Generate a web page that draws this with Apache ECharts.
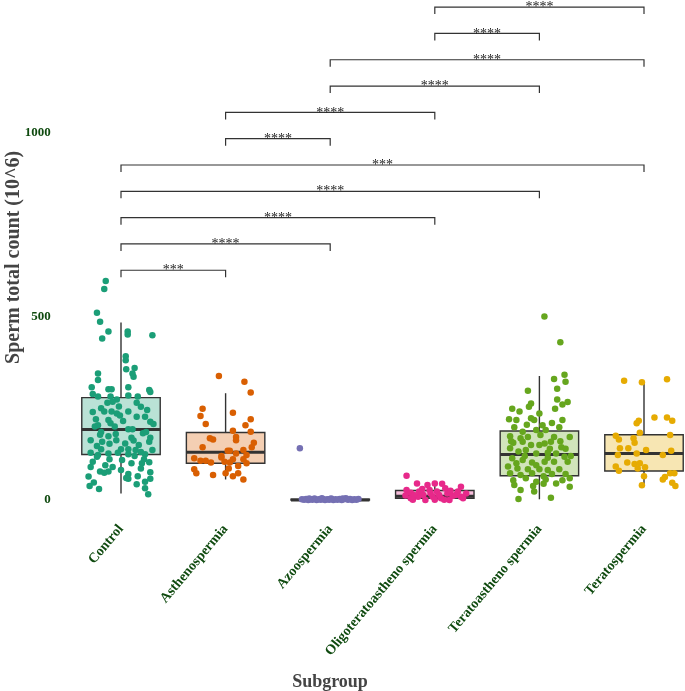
<!DOCTYPE html>
<html>
<head>
<meta charset="utf-8">
<script src="https://cdn.jsdelivr.net/npm/echarts@6.0.0/dist/echarts.min.js"></script>
<style>html,body{margin:0;padding:0;background:#fff}#c{width:685px;height:691px}</style>
</head>
<body>
<div id="c"></div>
<script>
const categories = ['Control','Asthenospermia','Azoospermia','Oligoteratoastheno spermia','Teratoastheno spermia','Teratospermia'];
const colors = ['#1B9E77','#D95F02','#7570B3','#E7298A','#66A61E','#E6AB02'];
const fills = ['rgba(27,158,119,0.3)','rgba(217,95,2,0.3)','rgba(117,112,179,0.3)','rgba(231,41,138,0.3)','rgba(102,166,30,0.3)','rgba(230,171,2,0.3)'];
// [min, q1, median, q3, max]
const boxStats = [
  [18,124,192,279,484],
  [56,100,130,184,291],
  [0,0,0,2,4],
  [0,5,10,26,48],
  [2,66,124,188,338],
  [40,79,127,178,323]
];
const yTicks = [0,500,1000];
// [fromIndex, toIndex, height, label]
const brackets = [
  [0,1,626,'***'],
  [0,2,697.7,'****'],
  [0,3,769.4,'****'],
  [0,4,841.1,'****'],
  [0,5,912.8,'***'],
  [1,2,984.5,'****'],
  [1,3,1056.2,'****'],
  [2,4,1127.9,'****'],
  [2,5,1199.6,'****'],
  [3,4,1271.3,'****'],
  [3,5,1343,'****']
];
// jittered points: [offset within category, value]
const controlPts = [[-0.146,597],[-0.16,575],[-0.23,510],[-0.2,486],[-0.12,459],[-0.18,440],[0.064,459],[0.064,451],[0.3,449],[0.045,392],[0.045,381],[0.13,360],[0.05,356],[0.11,345],[0.12,336],[-0.22,345],[-0.22,327],[-0.28,307],[-0.12,302],[-0.09,302],[0.07,307],[0.27,300],[0.28,294],[-0.27,289],[-0.22,282],[-0.1,282],[-0.04,274],[0.07,285],[0.16,282],[-0.08,268],[-0.13,265],[0.15,265],[0.19,254],[-0.19,250],[-0.16,241],[-0.09,241],[-0.04,236],[0.07,241],[0.15,227],[0.23,227],[-0.24,220],[-0.12,218],[-0.01,230],[0.28,213],[0.31,207],[-0.22,204],[-0.1,209],[0.07,193],[0.11,193],[-0.19,185],[-0.2,178],[-0.12,174],[0.21,182],[0.24,185],[-0.29,163],[-0.18,159],[-0.11,153],[-0.045,163],[0.04,154],[0.12,162],[0.17,150],[0.27,159],[-0.23,147],[-0.19,138],[0,138],[0.07,138],[0.14,136],[0.19,131],[0.3,136],[-0.29,129],[-0.22,123],[-0.12,127],[-0.03,129],[0.07,125],[0.23,125],[-0.27,104],[-0.23,118],[-0.11,111],[0.01,109],[0.1,100],[0.22,111],[0.27,103],[-0.2,78],[-0.16,74],[-0.12,78],[0,82],[0.07,71],[0.19,86],[0.28,76],[-0.31,64],[0.07,58],[0.16,65],[0.28,58],[-0.26,48],[-0.3,38],[-0.21,30],[0.15,43],[0.23,50],[0.23,32],[0.26,16],[-0.02,255],[-0.06,200],[-0.25,200],[0.02,215],[0.25,245],[-0.27,240],[0.1,170],[-0.05,180],[0.28,170],[-0.08,90],[0.13,120],[-0.29,90],[0.2,100],[0.05,60],[-0.15,95]];
const asthenoPts = [[-0.064,338],[0.18,322],[0.24,293],[-0.22,249],[-0.24,229],[0.07,238],[0.24,220],[-0.19,207],[0.19,204],[0.07,189],[0.24,186],[-0.15,168],[-0.12,165],[0.1,172],[0.1,163],[0.27,156],[0.25,144],[-0.22,144],[0.17,136],[0.02,134],[0.04,134],[-0.04,120],[0.2,123],[0.1,127],[-0.3,114],[-0.24,107],[-0.19,107],[-0.14,102],[-0.04,116],[-0.01,104],[0.04,102],[0.07,111],[0.17,111],[0.2,100],[0.12,93],[0.03,86],[-0.3,84],[-0.28,73],[-0.12,68],[0,73],[0.07,65],[0.12,73],[0.17,56]];
const azooPts = [[-0.29,141],[-0.27,2],[-0.25,1],[-0.23,3],[-0.21,0],[-0.19,2],[-0.17,1],[-0.15,4],[-0.13,0],[-0.11,2],[-0.09,1],[-0.07,3],[-0.05,0],[-0.03,2],[-0.01,1],[0.01,4],[0.03,0],[0.05,2],[0.07,1],[0.09,3],[0.11,0],[0.13,2],[0.15,5],[0.17,1],[0.19,3],[0.21,0],[0.23,2],[0.25,1],[0.27,3],[-0.2,4],[0.0,3],[0.12,4],[-0.08,5]];
const oligoPts = [[-0.27,66],[-0.17,45],[-0.07,41],[0,45],[0.07,44],[0.25,36],[-0.27,27],[-0.23,20],[-0.15,23],[-0.05,27],[0.02,23],[0.12,18],[0.22,23],[0.3,18],[-0.23,5],[-0.16,9],[-0.09,0],[-0.02,9],[0.06,5],[0.14,0],[0.25,9],[-0.2,14],[-0.11,14],[0.04,14],[0.17,11],[0.27,5],[-0.21,1],[0,1],[0.09,1],[-0.12,30],[0.1,32],[0.2,14],[-0.28,12],[0.15,25],[-0.04,18]];
const teratoAsthenoPts = [[0.048,500],[0.2,430],[0.24,341],[0.25,322],[0.14,330],[-0.11,298],[0.17,303],[0.17,274],[0.27,267],[-0.08,263],[0.22,260],[0.15,249],[-0.26,249],[-0.19,241],[-0.1,254],[0,236],[-0.29,220],[-0.22,218],[-0.08,223],[-0.05,218],[0.22,218],[-0.24,198],[0.03,204],[0.19,198],[-0.16,186],[-0.03,191],[0.06,191],[0.29,172],[-0.28,174],[-0.18,168],[-0.11,172],[0.01,177],[0.14,172],[-0.25,156],[-0.16,159],[-0.08,150],[0.05,154],[0.11,159],[0.21,144],[-0.28,141],[-0.2,132],[-0.13,136],[-0.03,127],[0.08,129],[0.16,127],[0.24,118],[-0.26,114],[-0.16,109],[-0.07,102],[0.05,104],[0.14,104],[0.27,104],[-0.3,91],[-0.21,86],[-0.11,84],[0,84],[0.08,82],[0.19,84],[-0.28,73],[-0.18,68],[-0.07,73],[0.04,65],[0.12,71],[0.25,71],[-0.25,54],[-0.13,59],[-0.03,50],[0.06,56],[0.22,54],[0.29,59],[-0.24,41],[-0.06,38],[0.04,44],[0.16,45],[0.29,36],[-0.18,27],[-0.05,23],[-0.2,3],[0.11,6],[0.0,150],[-0.22,100],[0.2,160],[0.1,140],[-0.14,120],[0.25,140],[-0.03,95],[0.12,210],[-0.12,205],[0.08,115],[-0.27,160],[0.3,120]];
const teratoPts = [[-0.19,325],[-0.02,321],[0.22,329],[0.1,225],[0.22,225],[0.27,216],[-0.05,216],[-0.07,209],[-0.27,175],[-0.24,165],[-0.1,168],[-0.09,156],[-0.04,183],[0.25,177],[-0.23,141],[-0.15,141],[0.02,136],[0.26,134],[-0.25,123],[-0.07,127],[0.18,123],[-0.16,102],[-0.09,98],[-0.04,100],[0.01,89],[-0.06,86],[-0.27,91],[-0.24,80],[0,65],[0.18,56],[0.2,63],[0.25,73],[0.29,73],[0.27,47],[0.3,38],[-0.02,40]];

const allPts = [controlPts, asthenoPts, azooPts, oligoPts, teratoAsthenoPts, teratoPts];
const serif = '"Liberation Serif", "Times New Roman", serif';
const labelGreen = '#0f4a0f';

const chart = echarts.init(document.getElementById('c'), null, {renderer: 'canvas'});

const scatterSeries = allPts.map((pts, i) => ({
  type: 'scatter',
  xAxisIndex: 1,
  yAxisIndex: 0,
  symbolSize: 6.5,
  itemStyle: {color: colors[i], opacity: 1},
  z: 3,
  silent: true,
  data: pts.map(p => [i + p[0], p[1]])
}));

const boxSeries = {
  type: 'custom',
  xAxisIndex: 1,
  yAxisIndex: 0,
  z: 2,
  silent: true,
  encode: {x: 0, y: [1,2,3,4,5]},
  data: boxStats.map((s, i) => [i].concat(s)),
  renderItem: function (params, api) {
    const i = api.value(0);
    const half = api.size([0.75, 0])[0] / 2;
    const pMin = api.coord([i, api.value(1)]);
    const pQ1 = api.coord([i, api.value(2)]);
    const pMed = api.coord([i, api.value(3)]);
    const pQ3 = api.coord([i, api.value(4)]);
    const pMax = api.coord([i, api.value(5)]);
    const stroke = '#333333';
    return {
      type: 'group',
      children: [
        {type: 'line', shape: {x1: pMax[0], y1: pMax[1], x2: pQ3[0], y2: pQ3[1]}, style: {stroke: stroke, lineWidth: 1.4}},
        {type: 'line', shape: {x1: pQ1[0], y1: pQ1[1], x2: pMin[0], y2: pMin[1]}, style: {stroke: stroke, lineWidth: 1.4}},
        {type: 'rect', shape: {x: pQ3[0] - half, y: pQ3[1], width: half * 2, height: Math.max(pQ1[1] - pQ3[1], 0.5)}, style: {fill: fills[i], stroke: stroke, lineWidth: 1.4}},
        {type: 'line', shape: {x1: pMed[0] - half, y1: pMed[1], x2: pMed[0] + half, y2: pMed[1]}, style: {stroke: stroke, lineWidth: 3}}
      ]
    };
  }
};

const bracketSeries = {
  type: 'custom',
  xAxisIndex: 1,
  yAxisIndex: 0,
  z: 4,
  silent: true,
  clip: false,
  encode: {x: [0,1], y: 2},
  data: brackets.map(b => [b[0], b[1], b[2], b[3]]),
  renderItem: function (params, api) {
    const a = api.coord([api.value(0), api.value(2)]);
    const b = api.coord([api.value(1), api.value(2)]);
    const tip = 7;
    const label = brackets[params.dataIndex][3];
    return {
      type: 'group',
      children: [
        {type: 'polyline', shape: {points: [[a[0], a[1] + tip], [a[0], a[1]], [b[0], b[1]], [b[0], b[1] + tip]]}, style: {stroke: '#333333', lineWidth: 1.2, fill: null}},
        {type: 'text', style: {text: label, x: (a[0] + b[0]) / 2, y: a[1] + 0.5, align: 'center', verticalAlign: 'middle', font: '14px ' + serif, fill: '#222'}}
      ]
    };
  }
};

chart.setOption({
  animation: false,
  backgroundColor: '#ffffff',
  grid: {left: 68.7, right: -11.3, top: 0, bottom: 176.3, containLabel: false, outerBoundsMode: 'none'},
  xAxis: [
    {
      type: 'category',
      data: categories,
      boundaryGap: true,
      axisLine: {show: false},
      axisTick: {show: false},
      splitLine: {show: false},
      axisLabel: {rotate: 50, interval: 0, margin: 12, fontFamily: serif, fontWeight: 'bold', fontSize: 14, color: labelGreen}
    },
    {type: 'value', min: -0.5, max: 5.5, show: false}
  ],
  yAxis: {
    type: 'value',
    min: -40,
    max: 1362.4,
    axisLine: {show: false},
    axisTick: {show: false},
    splitLine: {show: false},
    axisLabel: {customValues: yTicks, formatter: function (v) { return String(v); }, margin: 18, fontFamily: serif, fontWeight: 'bold', fontSize: 13, color: labelGreen},
    name: 'Sperm total count (10^6)',
    nameLocation: 'middle',
    nameGap: 45,
    nameMoveOverlap: false,
    nameTextStyle: {fontFamily: serif, fontWeight: 'bold', fontSize: 20, color: '#444444'}
  },
  graphic: [
    {type: 'text', x: 330, y: 682, style: {text: 'Subgroup', align: 'center', verticalAlign: 'middle', font: 'bold 18px ' + serif, fill: '#444444'}}
  ],
  series: [boxSeries].concat(scatterSeries).concat([bracketSeries])
});
</script>
</body>
</html>
